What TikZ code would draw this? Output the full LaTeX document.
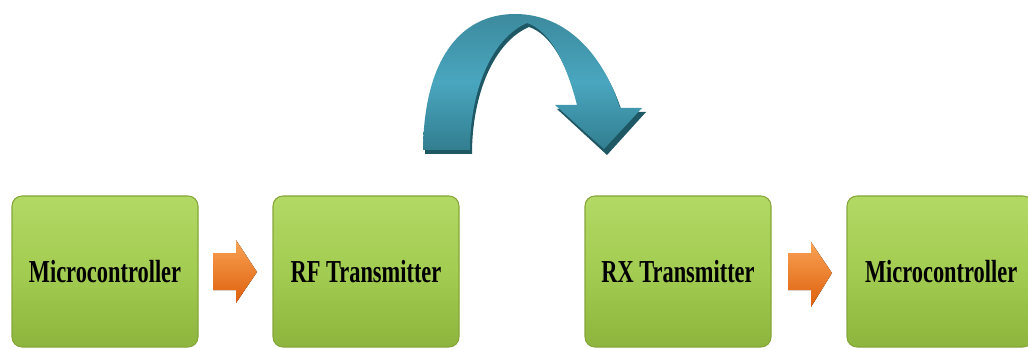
\documentclass[tikz,border=0pt]{standalone}
\usepackage{fontspec}
\newfontfamily\boxfont[FakeStretch=0.7]{Liberation Serif}
\usetikzlibrary{calc}
\definecolor{gbord}{HTML}{86A63A}
\definecolor{gtop}{HTML}{B2D964}
\definecolor{gmid}{HTML}{A3CC52}
\definecolor{gbot}{HTML}{8DB53D}
\definecolor{tealL}{HTML}{3C8A9D}
\definecolor{tealM}{HTML}{49A6BF}
\definecolor{tealR}{HTML}{327E8F}
\definecolor{tealD}{HTML}{1E5865}
\definecolor{orT}{HTML}{F9A354}
\definecolor{orB}{HTML}{DD5F0C}
\tikzset{
  blockbox/.style={draw=gbord, line width=0.8pt, rounded corners=7.5pt, top color=gtop, bottom color=gbot, middle color=gmid,
    minimum width=139.5pt, minimum height=113.25pt, inner sep=0pt,
    font=\boxfont\bfseries\fontsize{24}{26}\selectfont},
  orarrow/.style={top color=orT, bottom color=orB, draw=none},
}
\begin{document}
\begin{tikzpicture}[x=0.75pt,y=-0.75pt]
\useasboundingbox (0,0) rectangle (1028,349);
\begin{scope}
\clip (0,0) rectangle (1028,349);
% boxes
\node[blockbox] (mc1) at (105,271.5) {Microcontroller};
\node[blockbox] (rf) at (366,271.5) {RF Transmitter};
\node[blockbox] (rx) at (678,271.5) {RX Transmitter};
\node[blockbox, text width=112.5pt, align=left, inner xsep=13.5pt] (mc2) at (940,271.5) {Microcontroller};
% orange arrows
\fill[orarrow] (213,253) -- (236,253) -- (236,240) -- (257,272) -- (236,303) -- (236,290) -- (213,290) -- cycle;
\fill[orarrow] (788,253) -- (811,253) -- (811,242) -- (832,273) -- (811,307) -- (811,290) -- (788,290) -- cycle;
% curved arrow: shadow
\fill[tealD] (425,154)
  .. controls (426,64) and (462,18) .. (517,18)
  .. controls (572,18) and (607,64) .. (622,112)
  -- (646,112) -- (607,155) -- (557,109) -- (579,109)
  .. controls (567,62) and (550,34) .. (529,27)
  .. controls (494,42) and (472,94) .. (472,154) -- cycle;
% curved arrow: main
\shade[left color=tealL, right color=tealR, middle color=tealM, shading angle=0]
  (423,150)
  .. controls (424,60) and (460,14) .. (515,14)
  .. controls (570,14) and (605,60) .. (620,108)
  -- (642,108) -- (604,149) -- (555,105) -- (577,105)
  .. controls (565,58) and (548,30) .. (527,23)
  .. controls (492,38) and (470,90) .. (470,150) -- cycle;
\end{scope}
\end{tikzpicture}
\end{document}
